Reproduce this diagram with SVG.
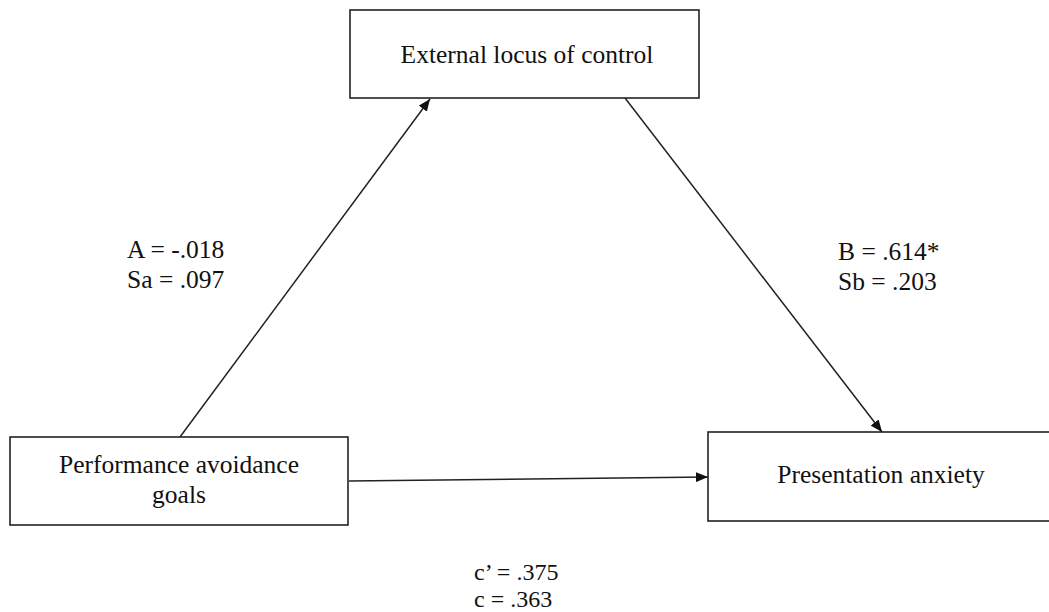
<svg xmlns="http://www.w3.org/2000/svg" width="1049" height="612" viewBox="0 0 1049 612">
<style>
.box{fill:#fff;stroke:#222;stroke-width:1.6}
text{font-family:'Liberation Serif','Tinos','Times New Roman','DejaVu Serif',serif;font-size:25.5px;fill:#111}
.c{text-anchor:middle}
.s{font-size:24px}
.edge{stroke:#222;stroke-width:1.5;fill:none}
</style>
<defs>
<marker id="ah" viewBox="0 0 12 10" refX="12" refY="5" markerWidth="12" markerHeight="10" markerUnits="userSpaceOnUse" orient="auto">
<path d="M0,0 L12,5 L0,10 Z" fill="#111"/>
</marker>
</defs>
<rect width="1049" height="612" fill="#fff"/>
<g id="connectors">
<line class="edge" x1="180" y1="437" x2="430" y2="99" marker-end="url(#ah)"/>
<line class="edge" x1="625" y1="98" x2="882" y2="432" marker-end="url(#ah)"/>
<line class="edge" x1="349" y1="481" x2="708" y2="477" marker-end="url(#ah)"/>
</g>
<g id="node-external">
<rect class="box" x="350" y="10" width="349" height="88"/>
<text class="c" x="527" y="63">External locus of control</text>
</g>
<g id="node-performance">
<rect class="box" x="10" y="437" width="338" height="88"/>
<text class="c" x="179" y="473">Performance avoidance</text>
<text class="c" x="179" y="503">goals</text>
</g>
<g id="node-presentation">
<rect class="box" x="708" y="432" width="347" height="89"/>
<text class="c" x="881" y="483">Presentation anxiety</text>
</g>
<g id="labels">
<text x="127" y="258">A = -.018</text>
<text x="127" y="288">Sa = .097</text>
<text x="838" y="260">B = .614*</text>
<text x="838" y="290">Sb = .203</text>
<text class="s" x="474" y="580">c’ = .375</text>
<text class="s" x="474" y="607">c = .363</text>
</g>
</svg>
